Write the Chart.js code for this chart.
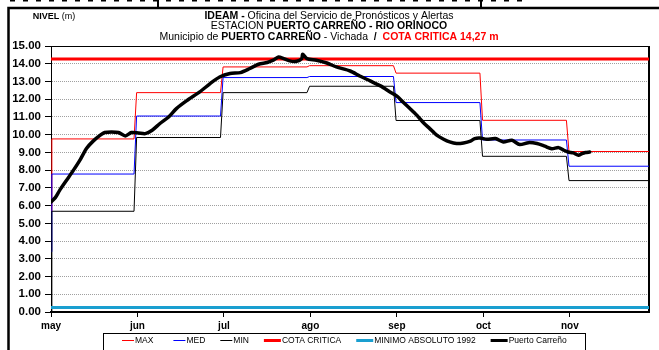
<!DOCTYPE html>
<html>
<head>
<meta charset="utf-8">
<script src="https://cdn.jsdelivr.net/npm/chart.js@4.4.0/dist/chart.umd.min.js"></script>
<style>
  html, body { margin: 0; padding: 0; background: #fff; }
  canvas { display: block; }
</style>
</head>
<body>
<canvas id="nivelChart" width="659" height="350"></canvas>
<script>
// Niveles del río Orinoco en Puerto Carreño (m)

const meses = ["may", "jun", "jul", "ago", "sep", "oct", "nov"];

// niveles mensuales históricos (escalones)
const nivelMax = [9.76, 12.37, 13.82, 13.89, 13.47, 10.81, 9.05];
const nivelMed = [7.78, 11.05, 13.22, 13.28, 11.81, 9.70, 8.22];
const nivelMin = [5.68, 9.84, 12.37, 12.73, 10.80, 8.78, 7.41];
// valor del primer día de cada serie histórica
const arranqueMax = 5.70;
const arranqueMed = 3.40;
const arranqueMin = 0.00;

const cotaCritica = 14.27;
const minimoAbsoluto = 0.25;

// observaciones Puerto Carreño (posición en meses desde el 1 de mayo)
const fechasPC = [0.00, 0.05, 0.10, 0.18, 0.26, 0.34, 0.41, 0.49, 0.57, 0.62,
  0.70, 0.78, 0.86, 0.93, 1.01, 1.09, 1.17, 1.26, 1.36, 1.45,
  1.57, 1.72, 1.84, 1.95, 2.07, 2.19, 2.30, 2.40, 2.50, 2.57,
  2.63, 2.69, 2.76, 2.84, 2.90, 2.91, 2.96, 3.07, 3.19, 3.30,
  3.46, 3.57, 3.69, 3.81, 3.92, 4.00, 4.07, 4.15, 4.23, 4.31,
  4.38, 4.46, 4.54, 4.61, 4.69, 4.77, 4.85, 4.90, 4.96, 5.04,
  5.14, 5.23, 5.33, 5.42, 5.52, 5.62, 5.71, 5.79, 5.87, 5.93,
  5.98, 6.04, 6.10, 6.14, 6.18, 6.23];
const nivelesPC = [6.20, 6.45, 6.86, 7.43, 8.00, 8.61, 9.22, 9.65, 9.97, 10.12,
  10.15, 10.12, 9.93, 10.12, 10.10, 10.06, 10.25, 10.63, 11.00, 11.47,
  11.92, 12.41, 12.88, 13.25, 13.45, 13.50, 13.73, 13.97, 14.07, 14.20,
  14.38, 14.29, 14.16, 14.14, 14.29, 14.53, 14.29, 14.20, 14.04, 13.82,
  13.59, 13.31, 13.03, 12.75, 12.41, 12.17, 11.84, 11.47, 11.09, 10.66,
  10.34, 9.97, 9.74, 9.59, 9.50, 9.53, 9.63, 9.78, 9.81, 9.74,
  9.78, 9.59, 9.68, 9.44, 9.55, 9.50, 9.35, 9.21, 9.27, 9.12,
  9.02, 8.97, 8.84, 8.93, 8.99, 9.02];

const FIN_EJE = 6.915;
const FUENTE = '"Liberation Sans", Arial, sans-serif';

function serieEscalon(valores, inicio) {
  const pts = [{ x: 0, y: inicio }];
  valores.forEach((v, i) => {
    const desde = i === 0 ? 0.01 : i - 0.01;
    const hasta = i === valores.length - 1 ? FIN_EJE : i + 1 - 0.04;
    pts.push({ x: desde, y: v }, { x: hasta, y: v });
  });
  return pts;
}

function serieConstante(v) {
  return [{ x: 0, y: v }, { x: FIN_EJE, y: v }];
}

const datasets = [
  { label: "MAX", data: serieEscalon(nivelMax, arranqueMax), borderColor: "#ff0000", borderWidth: 1, order: 5 },
  { label: "MED", data: serieEscalon(nivelMed, arranqueMed), borderColor: "#0000ff", borderWidth: 1, order: 4 },
  { label: "MIN", data: serieEscalon(nivelMin, arranqueMin), borderColor: "#000000", borderWidth: 1, order: 3 },
  { label: "COTA CRITICA", data: serieConstante(cotaCritica), borderColor: "#ff0000", borderWidth: 3, order: 1 },
  { label: "MINIMO ABSOLUTO 1992", data: serieConstante(minimoAbsoluto), borderColor: "#1a9fd0", borderWidth: 3, order: 2 },
  {
    label: "Puerto Carreño",
    data: fechasPC.map((f, i) => ({ x: f, y: nivelesPC[i] })),
    borderColor: "#000000", borderWidth: 3.5, tension: 0.25,
    borderJoinStyle: "round", borderCapStyle: "round", order: 0
  }
];

// texto con tramos en negrita / color, centrado en cx
function textoMixto(ctx, tramos, cx, y, size) {
  let total = 0;
  tramos.forEach(t => {
    ctx.font = (t.b ? "bold " : "") + size + "px " + FUENTE;
    t.w = ctx.measureText(t.t).width;
    total += t.w;
  });
  let x = cx - total / 2;
  tramos.forEach(t => {
    ctx.font = (t.b ? "bold " : "") + size + "px " + FUENTE;
    ctx.fillStyle = t.c || "#000";
    ctx.fillText(t.t, x, y);
    x += t.w;
  });
}

const marcoPlugin = {
  id: "marco",
  beforeDatasetsDraw(chart) {
    const { ctx, chartArea: a } = chart;
    ctx.save();
    ctx.strokeStyle = "#000";
    ctx.lineWidth = 1;
    ctx.beginPath();
    ctx.moveTo(a.left, a.top + 0.5);
    ctx.lineTo(a.right, a.top + 0.5);
    ctx.stroke();
    ctx.lineWidth = 2;
    ctx.beginPath();
    ctx.moveTo(a.right, a.top);
    ctx.lineTo(a.right, a.bottom);
    ctx.stroke();
    ctx.restore();
  },
  afterDraw(chart) {
    const { ctx } = chart;
    ctx.save();
    // borde punteado de la tabla superior
    ctx.strokeStyle = "#000";
    ctx.lineWidth = 1.5;
    ctx.setLineDash([5, 8]);
    ctx.beginPath();
    ctx.moveTo(10, 0.75);
    ctx.lineTo(525, 0.75);
    ctx.stroke();
    ctx.setLineDash([]);
    ctx.lineWidth = 2;
    [158, 481].forEach(xv => {
      ctx.beginPath();
      ctx.moveTo(xv, 0);
      ctx.lineTo(xv, 8);
      ctx.stroke();
    });

    // recuadro exterior
    ctx.lineWidth = 2.5;
    ctx.beginPath();
    ctx.moveTo(8.5, 360);
    ctx.lineTo(8.5, 8);
    ctx.lineTo(670, 8);
    ctx.stroke();

    // títulos
    ctx.textBaseline = "middle";
    textoMixto(ctx, [{ t: "NIVEL", b: true }, { t: " (m)" }], 54, 17, 9);
    textoMixto(ctx, [{ t: "IDEAM - ", b: true }, { t: "Oficina del Servicio de Pronósticos y Alertas" }], 329, 16, 10.5);
    textoMixto(ctx, [{ t: "ESTACION " }, { t: "PUERTO CARREÑO - RIO ORINOCO", b: true }], 329, 26.5, 10.5);
    textoMixto(ctx, [
      { t: "Municipio de " }, { t: "PUERTO CARREÑO", b: true }, { t: " - Vichada  " },
      { t: "/", b: true }, { t: "  " },
      { t: "COTA CRITICA " + cotaCritica.toFixed(2).replace(".", ",") + " m", b: true, c: "#ff0000" }
    ], 329, 36.7, 10.5);

    // leyenda
    ctx.lineWidth = 1;
    ctx.strokeStyle = "#000";
    ctx.strokeRect(103.5, 333.5, 482, 20);
    ctx.font = "8.5px " + FUENTE;
    ctx.textBaseline = "middle";
    let x = 122;
    const y = 340.5;
    chart.data.datasets.forEach((ds, i) => {
      const largo = ds.borderWidth > 1 ? 17 : 12;
      ctx.strokeStyle = ds.borderColor;
      ctx.lineWidth = Math.min(ds.borderWidth, 3);
      ctx.beginPath();
      ctx.moveTo(x, y);
      ctx.lineTo(x + largo, y);
      ctx.stroke();
      ctx.fillStyle = "#000";
      ctx.fillText(ds.label, x + largo + 1, y);
      x += largo + 1 + ctx.measureText(ds.label).width + (i === 0 ? 20 : 15);
    });
    ctx.restore();
  }
};

new Chart(document.getElementById("nivelChart"), {
  type: "line",
  data: { datasets: datasets },
  options: {
    responsive: false,
    animation: false,
    layout: { padding: { left: 8, right: 10, top: 46, bottom: 0 } },
    elements: { point: { radius: 0 }, line: { tension: 0 } },
    plugins: { legend: { display: false }, tooltip: { enabled: false } },
    scales: {
      x: {
        type: "linear",
        min: 0,
        max: FIN_EJE,
        afterBuildTicks: s => { s.ticks = meses.map((_, i) => ({ value: i })); },
        afterFit: s => { s.height = 38; },
        ticks: {
          callback: v => meses[v],
          autoSkip: false,
          maxRotation: 0,
          padding: 3,
          color: "#000",
          font: { family: FUENTE, size: 10, weight: "bold" }
        },
        grid: { drawOnChartArea: false, drawTicks: true, tickLength: 5, tickColor: "#000", tickWidth: 1 },
        border: { color: "#000", width: 2 }
      },
      y: {
        min: 0,
        max: 15,
        afterFit: s => { s.width = 43; },
        ticks: {
          stepSize: 1,
          padding: 4,
          callback: v => v.toFixed(2),
          color: "#000",
          font: { family: FUENTE, size: 11.5, weight: "bold" }
        },
        grid: { color: "#a0a0a0", lineWidth: 1, tickLength: 6, tickColor: "#000", tickWidth: 1 },
        border: { color: "#000", width: 1, dash: [1, 1] }
      }
    }
  },
  plugins: [marcoPlugin]
});
</script>
</body>
</html>
